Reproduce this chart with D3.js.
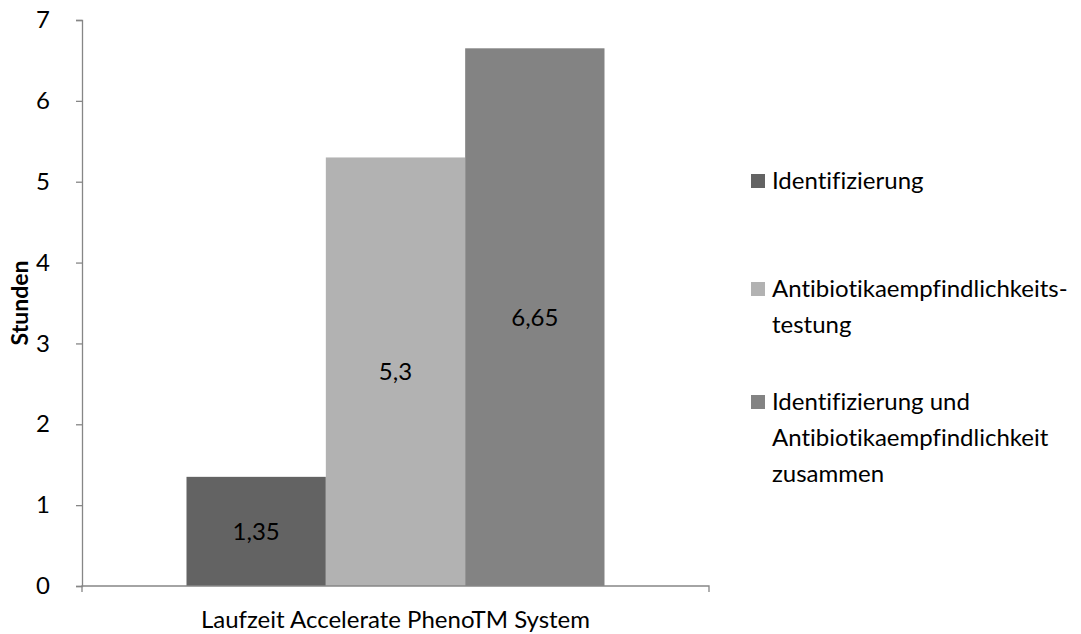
<!DOCTYPE html>
<html>
<head>
<meta charset="utf-8">
<script src="https://cdn.jsdelivr.net/npm/d3@7"></script>
<style>
  body { margin: 0; background: #fff; }
  svg text { font-family: Lato, "Open Sans", sans-serif; fill: #000; font-variant-ligatures: none; font-feature-settings: "liga" 0; }
</style>
</head>
<body>
<div id="chart"></div>
<script>
// chart data
const category = "Laufzeit Accelerate PhenoTM System";
const series = ["Identifizierung", "Antibiotikaempfindlichkeits-testung", "Identifizierung und Antibiotikaempfindlichkeit zusammen"];
const values = [1.35, 5.3, 6.65];
const valueLabels = ["1,35", "5,3", "6,65"];
const colors = ["#636363", "#b2b2b2", "#838383"];
const yTicks = [0, 1, 2, 3, 4, 5, 6, 7];
// legend lines (as wrapped in the original)
const legendLines = [
  ["Identifizierung"],
  ["Antibiotikaempfindlichkeits-", "testung"],
  ["Identifizierung und", "Antibiotikaempfindlichkeit", "zusammen"]
];

const width = 1081, height = 634;
const margin = {left: 82, right: 372, top: 20, bottom: 48};
const fs = "24px";

const svg = d3.select("#chart").append("svg")
  .attr("width", width).attr("height", height);

const x0 = d3.scaleBand().domain([category])
  .range([margin.left, width - margin.right]);
// Excel style gap width 150%: bars take 3/(3+1.5) of the band
const bw = x0.bandwidth();
const barGroupW = bw * 3 / 4.5;
const x1 = d3.scaleBand().domain(d3.range(values.length))
  .range([x0(category) + (bw - barGroupW) / 2, x0(category) + (bw + barGroupW) / 2]);

const y = d3.scaleLinear().domain([0, 7]).range([height - margin.bottom, margin.top]);

// bars
svg.append("g").selectAll("rect")
  .data(values)
  .join("rect")
  .attr("x", (d, i) => x1(i))
  .attr("width", x1.bandwidth())
  .attr("y", d => y(d))
  .attr("height", d => y(0) - y(d))
  .attr("fill", (d, i) => colors[i]);

// value labels in the middle of the bars
svg.append("g").selectAll("text")
  .data(values)
  .join("text")
  .attr("x", (d, i) => x1(i) + x1.bandwidth() / 2)
  .attr("y", d => (y(d) + y(0)) / 2)
  .attr("dy", "0.35em")
  .attr("text-anchor", "middle")
  .style("font-size", fs)
  .text((d, i) => valueLabels[i]);

// y axis
const yAxis = svg.append("g")
  .attr("transform", `translate(${margin.left},0)`)
  .call(d3.axisLeft(y).tickValues(yTicks).tickSize(6).tickPadding(26).tickFormat(d3.format("d")));
yAxis.select(".domain").attr("stroke", "#868686").attr("stroke-width", 1.3);
yAxis.selectAll(".tick line").attr("stroke", "#868686").attr("stroke-width", 1.3);
yAxis.selectAll(".tick text").style("font-size", fs).style("font-family", "Lato");

// x axis
const xAxis = svg.append("g")
  .attr("transform", `translate(0,${y(0)})`)
  .call(d3.axisBottom(x0).tickSize(0).tickPadding(23));
xAxis.select(".domain")
  .attr("d", `M${margin.left},6V0H${width - margin.right}V6`)
  .attr("stroke", "#868686").attr("stroke-width", 1.3);
xAxis.selectAll(".tick text").style("font-size", fs).style("font-family", "Lato")
  .attr("dy", "0.8em");

// y axis title
svg.append("text")
  .attr("transform", `translate(28,${(y(0) + y(7)) / 2}) rotate(-90)`)
  .attr("text-anchor", "middle")
  .style("font-size", "23px")
  .style("font-weight", "bold")
  .text("Stunden");

// legend
const legendX = 751;
const legendTops = [181, 289, 402];
const lineH = 36;
const legend = svg.append("g");
legendLines.forEach((lines, i) => {
  legend.append("rect")
    .attr("x", legendX).attr("y", legendTops[i] - 7)
    .attr("width", 14).attr("height", 14)
    .attr("fill", colors[i]);
  lines.forEach((t, j) => {
    legend.append("text")
      .attr("x", legendX + 21)
      .attr("y", legendTops[i] + j * lineH)
      .attr("dy", "0.35em")
      .style("font-size", fs)
      .text(t);
  });
});
</script>
</body>
</html>
